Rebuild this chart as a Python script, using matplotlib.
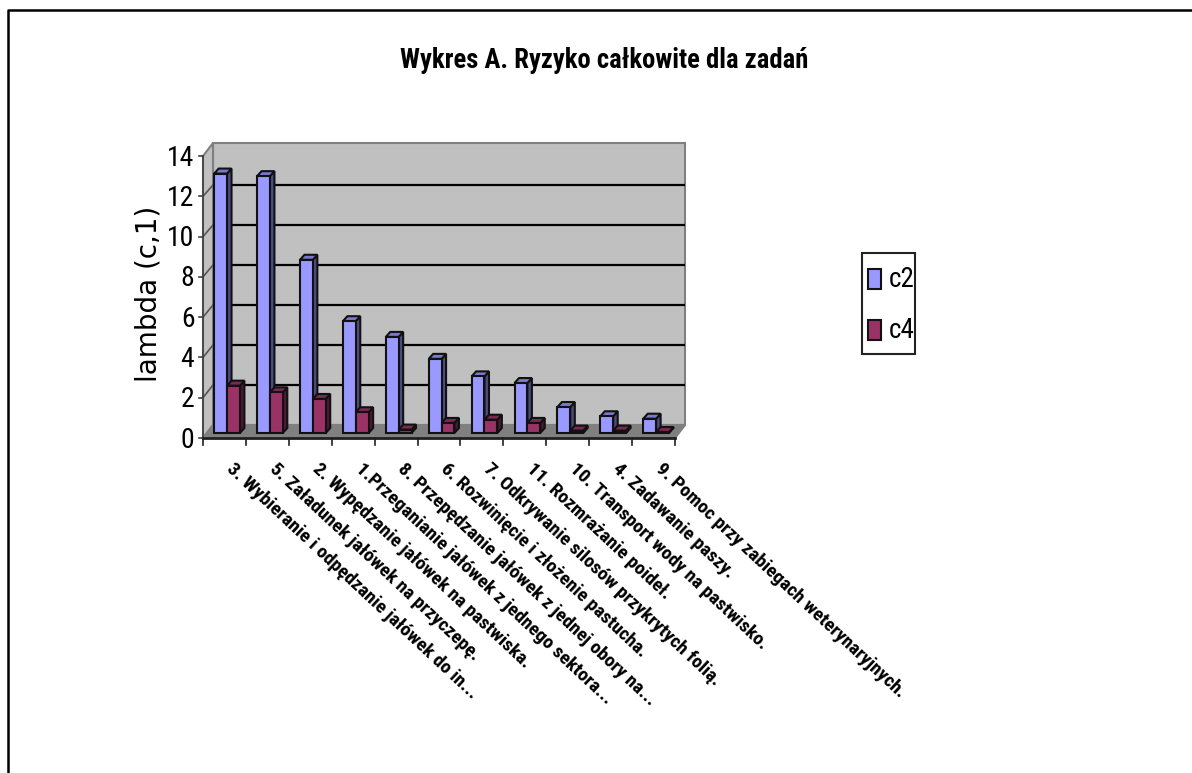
from matplotlib import pyplot as plt
from matplotlib.patches import Polygon, Rectangle

W, H = 1192, 773
NARROW = ['Roboto Condensed', 'Open Sans Condensed', 'Liberation Sans']

tasks = ['3. Wybieranie i odpędzanie jałówek do in...',
         '5. Załadunek jałówek na przyczepę.',
         '2. Wypędzanie jałówek na pastwiska.',
         '1.Przeganianie jałówek z jednego sektora...',
         '8. Przepędzanie jałówek z jednej obory na...',
         '6. Rozwinięcie i złożenie pastucha.',
         '7. Odkrywanie silosów przykrytych folią.',
         '11. Rozmrażanie poideł.',
         '10. Transport wody na pastwisko.',
         '4. Zadawanie paszy.',
         '9. Pomoc przy zabiegach weterynaryjnych.']
c2 = [12.88, 12.75, 8.6, 5.55, 4.77, 3.68, 2.81, 2.48, 1.29, 0.83, 0.71]
c4 = [2.35, 2.02, 1.69, 1.03, 0.17, 0.5, 0.66, 0.5, 0.12, 0.12, 0.05]
yticks = list(range(0, 15, 2))

fig = plt.figure(figsize=(W / 100, H / 100), dpi=100)
ax = fig.add_axes([203 / W, 1 - 438 / H, 472 / W, 282 / H])
ax.set_xlim(0, 11)
ax.set_ylim(0, 14)
ax.axis('off')

# depth of the fake 3d box and of the bars, in data units
wall_dx, wall_dy = 10 * 11 / 472, 13 * 14 / 282
bar_dx, bar_dy = 4.5 * 11 / 472, 5 * 14 / 282
front_dy = 5 * 14 / 282
bar_w = 0.3
grid_scale = 0.993


def poly(pts, fc, ec='#7f7f7f', lw=1.5, z=1):
    ax.add_patch(Polygon(pts, closed=True, fc=fc, ec=ec, lw=lw, zorder=z, clip_on=False, joinstyle='miter'))


# walls and floor
ax.add_patch(Rectangle((wall_dx, wall_dy), 11, 14, fc='#c0c0c0', ec='#808080', lw=1.5, zorder=1, clip_on=False))
poly([(0, 0), (wall_dx, wall_dy), (wall_dx, 14 + wall_dy), (0, 14)], '#c0c0c0', z=1)
poly([(0, 0), (11, 0), (11 + wall_dx, wall_dy), (wall_dx, wall_dy)], '#808080', ec='#808080', z=2)

for v in yticks[1:-1]:
    ax.plot([wall_dx, 11 + wall_dx], [v * grid_scale + wall_dy] * 2, color='black', lw=1.6, zorder=3, clip_on=False,
            solid_capstyle='butt')
    ax.plot([0, wall_dx], [v, v * grid_scale + wall_dy], color='#555555', lw=1.2, zorder=3, clip_on=False)

# axis lines and ticks
ax.plot([0, 0], [0, 14], color='#404040', lw=1.2, zorder=4, clip_on=False)
ax.plot([0, 11], [0, 0], color='#202020', lw=2, zorder=6, clip_on=False)
for v in yticks:
    ax.plot([-0.1, 0], [v, v], color='#404040', lw=1.2, zorder=4, clip_on=False)
    ax.text(-0.2, v - 0.1, str(v), ha='right', va='center', fontsize=20, family=NARROW, clip_on=False)
for i in range(12):
    ax.plot([i, i], [0, -0.33], color='#202020', lw=1.2, zorder=4, clip_on=False)


def bar3d(x0, v, front, side, top, z):
    x1 = x0 + bar_w
    y0 = front_dy
    y1 = v + front_dy
    poly([(x1, y0), (x1 + bar_dx, y0 + bar_dy), (x1 + bar_dx, y1 + bar_dy), (x1, y1)], side, ec='#111111', lw=1.5, z=z)
    poly([(x0, y1), (x1, y1), (x1 + bar_dx, y1 + bar_dy), (x0 + bar_dx, y1 + bar_dy)], top, ec='#111111', lw=1.5, z=z)
    ax.add_patch(Rectangle((x0, y0), bar_w, v, fc=front, ec='#111111', lw=1.5, zorder=z + 0.1, clip_on=False))


for i in range(11):
    x0 = i + 0.26
    bar3d(x0, c2[i], '#9999ff', '#4c4c80', '#7a7acc', 5)
    bar3d(x0 + bar_w, c4[i], '#993366', '#4c1933', '#7a2952', 5.2)

# rotated category labels, offset from each tick
for i, t in enumerate(tasks):
    ax.annotate(t, xy=(i, 0), xytext=(26, -28), textcoords='offset pixels', rotation=-43, rotation_mode='anchor',
                ha='left', va='center', fontsize=14, family=NARROW, fontweight='bold', clip_on=False)

fig.text(604 / W, 1 - 60 / H, 'Wykres A. Ryzyko całkowite dla zadań', ha='center', va='center', fontsize=19.2,
         family=NARROW, fontweight='bold')
fig.text(149 / W, 1 - 294 / H, 'lambda (c,1)', rotation=90, ha='center', va='center', fontsize=20, family='DejaVu Sans')

# legend box
fig.add_artist(Rectangle((862 / W, 1 - 354 / H), 53 / W, 101 / H, transform=fig.transFigure, fc='white', ec='#222222', lw=1.5))
for yy, col, name in [(279, '#9999ff', 'c2'), (330, '#993366', 'c4')]:
    fig.add_artist(Rectangle((868 / W, 1 - (yy + 10) / H), 13 / W, 20 / H, transform=fig.transFigure, fc=col, ec='#111111', lw=1.5))
    fig.text(889 / W, 1 - (yy + 1) / H, name, ha='left', va='center', fontsize=19.5, family=NARROW)

# page frame, only top and left are visible
fig.add_artist(plt.Line2D([8 / W, 8 / W, 1], [0, 1 - 9.5 / H, 1 - 9.5 / H], color='black', lw=1.8))

fig.savefig('out.png', dpi=100)
